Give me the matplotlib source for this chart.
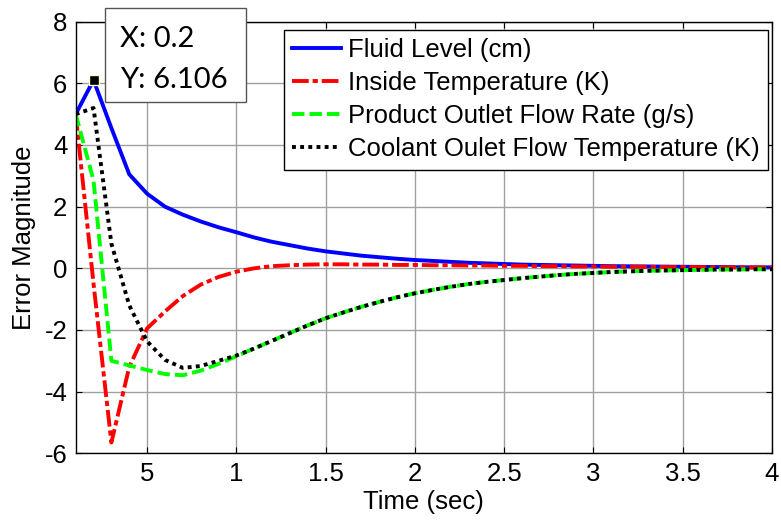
import numpy as np
import matplotlib
matplotlib.use('Agg')
import matplotlib.pyplot as plt
from matplotlib.patches import Rectangle

plt.rcParams['font.family'] = ['Liberation Sans', 'DejaVu Sans']

# tempo de amostragem (s)
tempo = np.round(np.arange(1, 41) * 0.1, 1)

nivel = [5.0, 6.106, 4.55, 3.05, 2.42, 2.0, 1.74, 1.52, 1.33, 1.17,
         1.0, 0.86, 0.75, 0.64, 0.55, 0.48, 0.41, 0.36, 0.31, 0.27,
         0.24, 0.21, 0.18, 0.16, 0.14, 0.12, 0.11, 0.10, 0.09, 0.08,
         0.07, 0.065, 0.06, 0.055, 0.05, 0.045, 0.04, 0.035, 0.03, 0.03]

temp_interna = [5.0, -0.5, -5.65, -3.2, -1.95, -1.4, -0.9, -0.53, -0.28, -0.11,
                0.0, 0.07, 0.10, 0.12, 0.13, 0.13, 0.12, 0.12, 0.11, 0.11,
                0.10, 0.10, 0.09, 0.09, 0.08, 0.08, 0.07, 0.07, 0.06, 0.06,
                0.05, 0.05, 0.05, 0.04, 0.04, 0.04, 0.03, 0.03, 0.03, 0.03]

vazao_produto = [5.0, 2.85, -3.0, -3.15, -3.3, -3.43, -3.47, -3.32, -3.1, -2.85,
                 -2.6, -2.35, -2.1, -1.85, -1.62, -1.43, -1.25, -1.09, -0.94, -0.81,
                 -0.70, -0.60, -0.51, -0.44, -0.38, -0.32, -0.27, -0.22, -0.18, -0.15,
                 -0.12, -0.10, -0.08, -0.07, -0.06, -0.05, -0.04, -0.04, -0.03, -0.03]

temp_refrigerante = [5.0, 5.2, 0.8, -1.2, -2.37, -2.97, -3.23, -3.17, -3.0, -2.83,
                     -2.6, -2.35, -2.1, -1.85, -1.62, -1.43, -1.25, -1.09, -0.94, -0.81,
                     -0.70, -0.60, -0.51, -0.44, -0.38, -0.32, -0.27, -0.22, -0.18, -0.15,
                     -0.12, -0.10, -0.08, -0.07, -0.06, -0.05, -0.04, -0.04, -0.03, -0.03]

rotulos = ['Fluid Level (cm)', 'Inside Temperature (K)',
           'Product Outlet Flow Rate (g/s)', 'Coolant Oulet Flow Temperature (K)']

xticks = [0.5, 1, 1.5, 2, 2.5, 3, 3.5, 4]
xtick_labels = ['5', '1', '1.5', '2', '2.5', '3', '3.5', '4']
yticks = [-6, -4, -2, 0, 2, 4, 6, 8]

dica_x = 0.2
dica_y = 6.106

fs = 18.5

fig = plt.figure(figsize=(7.81, 5.20), dpi=100)
ax = fig.add_axes([0.0969, 0.1283, 0.8916, 0.8300])

lw = 2.8
ax.plot(tempo, nivel, color='#0000ff', lw=lw, label=rotulos[0])
ax.plot(tempo, temp_interna, color='#ff0000', lw=lw, label=rotulos[1],
        dashes=(4.3, 1.0, 1.35, 1.0), dash_capstyle='butt')
ax.plot(tempo, vazao_produto, color='#00ff00', lw=lw, label=rotulos[2],
        dashes=(3.2, 1.3), dash_capstyle='butt')
ax.plot(tempo, temp_refrigerante, color='black', lw=lw, label=rotulos[3],
        dashes=(1.0, 1.1), dash_capstyle='butt')

# marcador do datatip
ax.plot([dica_x], [dica_y], 's', color='black', ms=6.5, mec='#ffffcc', mew=1, zorder=5)

ax.set_xlim(0.1, 4)
ax.set_ylim(-6, 8)
ax.set_xticks(xticks)
ax.set_xticklabels(xtick_labels)
ax.set_yticks(yticks)
ax.set_yticklabels([str(v) for v in yticks])
ax.tick_params(direction='in', length=4, width=0.8, top=True, right=True,
               labelsize=fs, pad=6)
ax.grid(True, color='#a0a0a0', lw=1)
ax.set_axisbelow(True)
for s in ax.spines.values():
    s.set_linewidth(1)

ax.set_xlabel('Time (sec)', fontsize=fs, labelpad=3)
ax.set_ylabel('Error Magnitude', fontsize=fs, labelpad=6)

leg = ax.legend(loc='upper right', bbox_to_anchor=(0.983, 0.942),
                bbox_transform=fig.transFigure, fontsize=fs, frameon=True,
                fancybox=False, framealpha=1, edgecolor='black',
                handlelength=1.9, handletextpad=0.26, labelspacing=0.35,
                borderpad=0.32, borderaxespad=0)
leg.get_frame().set_linewidth(1)

# caixa do datatip
W, H = 781.0, 520.0
caixa = Rectangle((105 / W, 1 - 101.5 / H), 141 / W, 93.5 / H,
                  transform=fig.transFigure, facecolor='white',
                  edgecolor='#555555', lw=1, zorder=10)
fig.patches.append(caixa)
fig.text(120 / W, 1 - 46.7 / H, 'X: 0.2', fontsize=21, family='Lato',
         va='baseline', ha='left', zorder=11)
fig.text(120 / W, 1 - 88 / H, 'Y: 6.106', fontsize=21, family='Lato',
         va='baseline', ha='left', zorder=11)

fig.savefig('out.png', dpi=100)
